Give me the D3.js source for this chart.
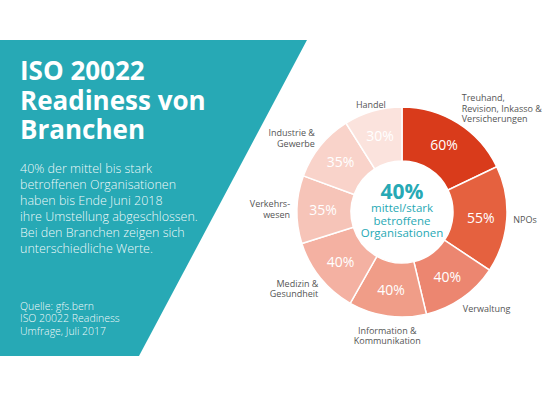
<!DOCTYPE html>
<html>
<head>
<meta charset="utf-8">
<script src="https://cdn.jsdelivr.net/npm/d3@7"></script>
<style>
  html, body { margin: 0; padding: 0; background: #fff; }
  svg { display: block; font-family: "Open Sans", sans-serif; }
</style>
</head>
<body>
<div id="chart"></div>
<script>
// Branchen und Anteil "Umstellung abgeschlossen"
const branchen = [
  ["Treuhand,", "Revision, Inkasso &", "Versicherungen"],
  ["NPOs"],
  ["Verwaltung"],
  ["Information &", "Kommunikation"],
  ["Medizin &", "Gesundheit"],
  ["Verkehrs-", "wesen"],
  ["Industrie &", "Gewerbe"],
  ["Handel"]
];
const anteile = [60, 55, 40, 40, 40, 35, 35, 30];
const farben = ["#d93b1b", "#e5613f", "#ec8670", "#f09d88", "#f4b1a2", "#f6c4b8", "#f9d3ca", "#fbe3dd"];

const titel = ["ISO 20022", "Readiness von", "Branchen"];
const absatz = [
  "40% der mittel bis stark",
  "betroffenen Organisationen",
  "haben bis Ende Juni 2018",
  "ihre Umstellung abgeschlossen.",
  "Bei den Branchen zeigen sich",
  "unterschiedliche Werte."
];
const quelle = ["Quelle: gfs.bern", "ISO 20022 Readiness", "Umfrage, Juli 2017"];
const zentrum = { wert: "40%", text: ["mittel/stark", "betroffene", "Organisationen"] };

const width = 555, height = 396;
const teal = "#27a9b5";

const svg = d3.select("#chart").append("svg")
  .attr("width", width)
  .attr("height", height);

// linke Fläche
svg.append("path")
  .attr("d", "M0,40 L307,40 L139,356 L0,356 Z")
  .attr("fill", teal);

const left = svg.append("g").attr("fill", "#fff");

left.selectAll("text.titel")
  .data(titel)
  .join("text")
  .attr("class", "titel")
  .attr("x", 20)
  .attr("y", (d, i) => 80 + i * 29.5)
  .style("font-size", "26px")
  .style("font-weight", 700)
  .text(d => d);

left.selectAll("text.absatz")
  .data(absatz)
  .join("text")
  .attr("class", "absatz")
  .attr("x", 20)
  .attr("y", (d, i) => 173 + i * 16)
  .style("font-size", "12.5px")
  .style("font-weight", 300)
  .attr("fill-opacity", 0.95)
  .text(d => d);

left.selectAll("text.quelle")
  .data(quelle)
  .join("text")
  .attr("class", "quelle")
  .attr("x", 20)
  .attr("y", (d, i) => 309.5 + i * 12.8)
  .style("font-size", "10.5px")
  .style("font-weight", 300)
  .attr("fill-opacity", 0.95)
  .text(d => d);

// Ring
const cx = 402, cy = 212;
const outer = 105, inner = 51;

const pie = d3.pie().sort(null).value(d => d);
const arcs = pie(anteile);

const arc = d3.arc().innerRadius(inner).outerRadius(outer);
const labelArc = d3.arc().innerRadius(79).outerRadius(79);

const ring = svg.append("g").attr("transform", `translate(${cx},${cy})`);

ring.selectAll("path")
  .data(arcs)
  .join("path")
  .attr("d", arc)
  .attr("fill", (d, i) => farben[i])
  .attr("stroke", "#fff")
  .attr("stroke-width", 1.5);

ring.selectAll("text.pct")
  .data(arcs)
  .join("text")
  .attr("class", "pct")
  .attr("transform", d => `translate(${labelArc.centroid(d)})`)
  .attr("text-anchor", "middle")
  .attr("dy", "0.36em")
  .attr("fill", "#fff")
  .style("font-size", "14px")
  .style("font-weight", 500)
  .text(d => d.data + "%");

// Beschriftungen aussen
function mid(d) { return (d.startAngle + d.endAngle) / 2; }
const lineH = 10.5;

ring.selectAll("text.name")
  .data(arcs)
  .join("text")
  .attr("class", "name")
  .attr("fill", "#555")
  .style("font-size", "9px")
  .attr("text-anchor", d => {
    const s = Math.sin(mid(d));
    return s > 0.3 ? "start" : s < -0.3 ? "end" : "middle";
  })
  .each(function (d, i) {
    const a = mid(d);
    const lines = branchen[i];
    const unten = Math.max(0, -Math.cos(a));
    // unten etwas enger in x, etwas weiter in y
    const x = (112 - 7 * unten) * Math.sin(a);
    const y = -(112 + 8 * unten) * Math.cos(a) - Math.cos(a) * (lines.length - 1) * lineH / 2;
    d3.select(this).selectAll("tspan")
      .data(lines)
      .join("tspan")
      .attr("x", x)
      .attr("y", (l, j) => y + (j - (lines.length - 1) / 2) * lineH + 3.2)
      .text(l => l);
  });

// Mitte
const center = ring.append("g").attr("text-anchor", "middle").attr("fill", teal);
center.append("text")
  .attr("y", -13)
  .style("font-size", "21px")
  .style("font-weight", 700)
  .text(zentrum.wert);
center.selectAll("text.sub")
  .data(zentrum.text)
  .join("text")
  .attr("class", "sub")
  .attr("y", (d, i) => 0 + i * 12.5)
  .style("font-size", "11.5px")
  .text(d => d);
</script>
</body>
</html>
